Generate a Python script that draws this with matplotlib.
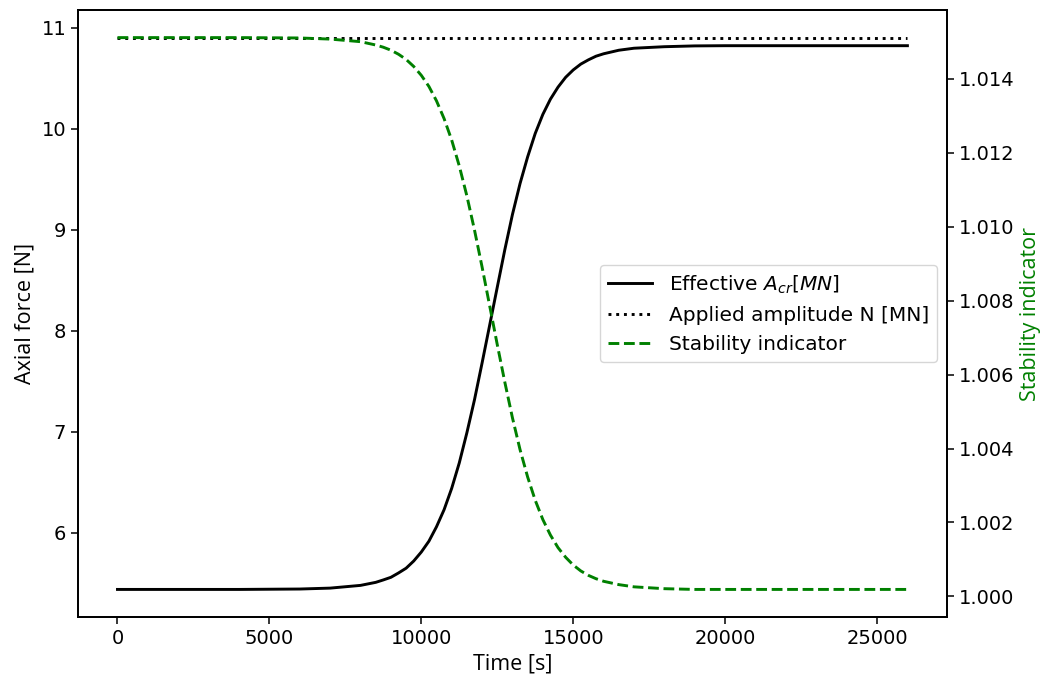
import matplotlib
matplotlib.use("Agg")
import matplotlib.pyplot as plt

# Time samples [s]
time_s = [0, 2000, 4000, 6000, 7000, 8000, 8500, 8750, 9000, 9250, 9500, 9750,
          10000, 10250, 10500, 10750, 11000, 11250, 11500, 11750, 12000, 12250,
          12500, 12750, 13000, 13250, 13500, 13750, 14000, 14250, 14500, 14750,
          15000, 15250, 15500, 15750, 16000, 16500, 17000, 18000, 19000, 20000,
          22000, 24000, 26000]

# Effective critical force (left axis)
effective_acr = [5.44, 5.44, 5.44, 5.444, 5.453, 5.48, 5.51, 5.534, 5.56, 5.603,
                 5.65, 5.721, 5.81, 5.917, 6.06, 6.229, 6.44, 6.692, 6.99, 7.316,
                 7.68, 8.054, 8.43, 8.803, 9.15, 9.456, 9.72, 9.952, 10.14,
                 10.291, 10.41, 10.507, 10.58, 10.638, 10.68, 10.716, 10.74,
                 10.775, 10.795, 10.81, 10.818, 10.82, 10.82, 10.82, 10.82]

# Applied amplitude (left axis)
applied_time = [0, 26000]
applied_amp = [10.9, 10.9]

# Stability indicator (right axis)
stability = [1.01511, 1.01511, 1.01511, 1.01510, 1.01507, 1.01500, 1.01491,
             1.01485, 1.01477, 1.01466, 1.01452, 1.01433, 1.01409, 1.01379,
             1.01340, 1.01292, 1.01234, 1.01164, 1.01083, 1.00991, 1.00891,
             1.00786, 1.00681, 1.00579, 1.00483, 1.00397, 1.00323, 1.00260,
             1.00208, 1.00166, 1.00132, 1.00106, 1.00085, 1.00069, 1.00057,
             1.00048, 1.00041, 1.00032, 1.00026, 1.00021, 1.00019, 1.00019,
             1.00019, 1.00019, 1.00019]

x_ticks = [0, 5000, 10000, 15000, 20000, 25000]
y_ticks = [6, 7, 8, 9, 10, 11]
y2_ticks = [1.000, 1.002, 1.004, 1.006, 1.008, 1.010, 1.012, 1.014]
y2_labels = ['1.000', '1.002', '1.004', '1.006', '1.008', '1.010', '1.012', '1.014']

TICK_FS = 14
LEG_FS = 14.5
LAB_FS = 15.5

fig = plt.figure(figsize=(10.44, 6.77), dpi=100)
ax = fig.add_axes([0.0747, 0.0886, 0.8323, 0.8966])
ax2 = ax.twinx()

l1, = ax.plot(time_s, effective_acr, color='black', lw=2.1,
              label='Effective $A_{cr} [MN]$')
l2, = ax.plot(applied_time, applied_amp, color='black', lw=2.1, ls=':',
              label='Applied amplitude N [MN]')
l3, = ax2.plot(time_s, stability, color='green', lw=2.1, ls='--',
               label='Stability indicator')

ax.set_xlabel('Time [s]', family='Open Sans', fontsize=LAB_FS)
ax.set_ylabel('Axial force [N]', family='Open Sans', fontsize=LAB_FS)
ax2.set_ylabel('Stability indicator', family='Open Sans', fontsize=LAB_FS,
               color='green')

ax.set_xticks(x_ticks)
ax.set_yticks(y_ticks)
ax2.set_yticks(y2_ticks)
ax2.set_yticklabels(y2_labels)

for a in (ax, ax2):
    a.tick_params(labelsize=TICK_FS, width=1.1, length=5)
for s in list(ax.spines.values()) + list(ax2.spines.values()):
    s.set_linewidth(1.3)

ax2.legend(handles=[l1, l2, l3], loc='center right', fontsize=LEG_FS,
           handlelength=2.2)

fig.savefig('out.png', dpi=100)
